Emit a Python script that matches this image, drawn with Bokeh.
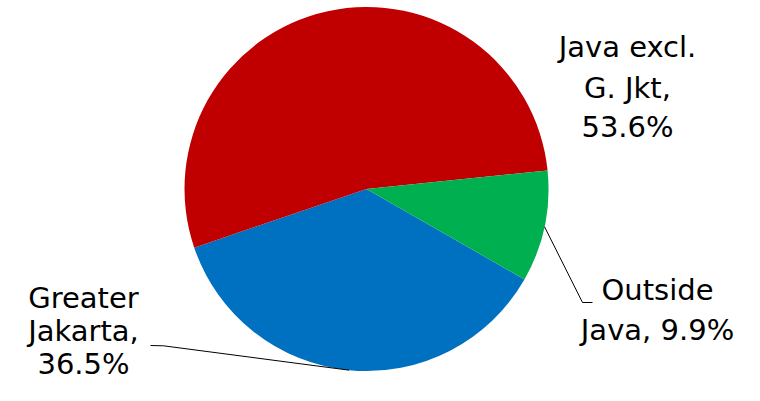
import math
from bokeh.plotting import figure
from bokeh.models import Range1d, ColumnDataSource
from bokeh.core.properties import value
from bokeh.embed import file_html
from bokeh.resources import INLINE

# ---- data ----
categories = ["Greater Jakarta", "Java excl. G. Jkt", "Outside Java"]
shares = [36.5, 53.6, 9.9]
colors = ["#0070C0", "#C00000", "#00B050"]
label_lines = [["Greater", "Jakarta,", "36.5%"],
               ["Java excl.", "G. Jkt,", "53.6%"],
               ["Outside", "Java, 9.9%"]]

# ---- layout (pixel coordinates, origin at the figure's top-left) ----
W, H = 744, 385
cx, cy, r = 366.0, 188.5, 182.0
first_angle_deg = -29.8          # start of first slice, slices go clockwise
label_x = [83, 627, 657]
label_base = [[310, 343, 376], [59, 99.5, 139], [302, 342]]
baseline_fix = 12.5              # renderer puts the baseline lower than y
leader_pts = {0: [(150, 345), (163, 345.3)], 2: [(592, 302), (582, 302)]}

def Y(sy):
    return H - sy

p = figure(width=W, height=H, output_backend="svg",
           toolbar_location=None, x_range=Range1d(0, W),
           y_range=Range1d(0, H), min_border=0)
p.axis.visible = False
p.grid.visible = False
p.outline_line_color = None
p.background_fill_color = "white"
p.border_fill_color = "white"

total = sum(shares)
starts, ends, mids = [], [], []
a = math.radians(first_angle_deg)
for s in shares:
    sweep = s / total * 2 * math.pi
    starts.append(a)
    ends.append(a - sweep)
    mids.append(a - sweep / 2)
    a -= sweep

src = ColumnDataSource(dict(x=[cx] * 3, y=[Y(cy)] * 3, start=starts, end=ends,
                            color=colors, cat=categories))
p.wedge(x="x", y="y", radius=r, start_angle="start", end_angle="end",
        direction="clock", fill_color="color", line_color=None, source=src)

# leader lines: from label elbow to the slice's mid-angle point on the rim
for i, pts in leader_pts.items():
    ex = cx + r * math.cos(mids[i])
    ey = Y(cy) + r * math.sin(mids[i])
    xs = [pts[0][0], pts[1][0], ex]
    ys = [Y(pts[0][1]), Y(pts[1][1]), ey]
    p.line(xs, ys, line_color="black", line_width=1)

# labels
tx, ty, tt = [], [], []
for i, lines in enumerate(label_lines):
    for j, t in enumerate(lines):
        tx.append(label_x[i])
        ty.append(Y(label_base[i][j] - baseline_fix))
        tt.append(t)
p.text(x=tx, y=ty, text=tt, text_align="center", text_baseline="alphabetic",
       text_font=value("DejaVu Sans"), text_font_size="29px", text_color="black")

open("out.html", "w").write(file_html(p, INLINE))
